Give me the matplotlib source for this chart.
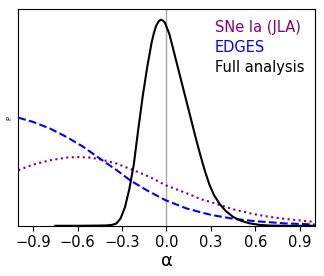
import matplotlib
matplotlib.use("Agg")
import matplotlib.pyplot as plt

# posterior curves (normalised so the full-analysis peak = 1)
alpha_full = [-0.75, -0.60, -0.45, -0.40, -0.37, -0.34, -0.31, -0.28, -0.25, -0.22,
              -0.19, -0.16, -0.13, -0.10, -0.085, -0.07, -0.055, -0.04, -0.025, -0.01,
              0.02, 0.05, 0.08, 0.11, 0.14, 0.17, 0.20, 0.23, 0.26, 0.29,
              0.32, 0.36, 0.40, 0.45, 0.50, 0.56, 0.63, 0.70, 0.80, 1.0]
p_full = [0.0, 0.0, 0.001, 0.002, 0.004, 0.010, 0.035, 0.09, 0.18, 0.30,
          0.47, 0.63, 0.77, 0.89, 0.935, 0.97, 0.99, 1.0, 0.997, 0.985,
          0.93, 0.845, 0.76, 0.675, 0.59, 0.505, 0.42, 0.34, 0.265, 0.20,
          0.15, 0.105, 0.072, 0.043, 0.025, 0.012, 0.004, 0.001, 0.0, 0.0]

alpha_edges = [-1.0, -0.9, -0.786, -0.674, -0.561, -0.449, -0.336, -0.246, -0.134,
               -0.006, 0.136, 0.229, 0.30, 0.45, 0.60, 0.68, 0.79, 0.97, 1.0]
p_edges = [0.525, 0.504, 0.472, 0.431, 0.383, 0.326, 0.270, 0.221, 0.173,
           0.124, 0.084, 0.066, 0.053, 0.034, 0.022, 0.018, 0.012, 0.007, 0.006]

alpha_sne = [-1.0, -0.9, -0.786, -0.674, -0.60, -0.516, -0.449, -0.336, -0.224,
             -0.112, -0.006, 0.136, 0.229, 0.30, 0.45, 0.60, 0.68, 0.80, 0.97, 1.0]
p_sne = [0.270, 0.297, 0.318, 0.331, 0.334, 0.331, 0.323, 0.302, 0.270,
         0.237, 0.197, 0.158, 0.130, 0.115, 0.080, 0.055, 0.045, 0.033, 0.021, 0.019]

xticks = [-0.9, -0.6, -0.3, 0.0, 0.3, 0.6, 0.9]

fig = plt.figure(figsize=(3.24, 2.76), dpi=100)
ax = fig.add_axes([0.0565, 0.182, 0.9145, 0.7836])

ax.axvline(0, color='#a6a6a6', lw=1.0, zorder=1)
ax.plot(alpha_sne, p_sne, ls=':', color='purple', lw=1.5, label='SNe Ia (JLA)')
ax.plot(alpha_edges, p_edges, ls='--', color='blue', lw=1.5, label='EDGES')
ax.plot(alpha_full, p_full, ls='-', color='black', lw=1.5, label='Full analysis')

ax.set_xlim(-1, 1)
ax.set_ylim(0, 1.05)
ax.set_xticks(xticks)
ax.set_xticklabels([f'{t:.1f}'.replace('-', '\u2212') for t in xticks], fontsize=10.5)
ax.set_yticks([])
ax.set_xlabel('α', fontsize=13, labelpad=1)
ax.set_ylabel('P', fontsize=5, labelpad=4)

leg = ax.legend(loc='upper right', frameon=False, handlelength=0, handletextpad=0,
                fontsize=10.5, labelspacing=0.35, borderaxespad=0.3)
for line, text in zip(leg.get_lines(), leg.get_texts()):
    text.set_color(line.get_color())
    line.set_visible(False)

fig.savefig('out.png', dpi=100)
